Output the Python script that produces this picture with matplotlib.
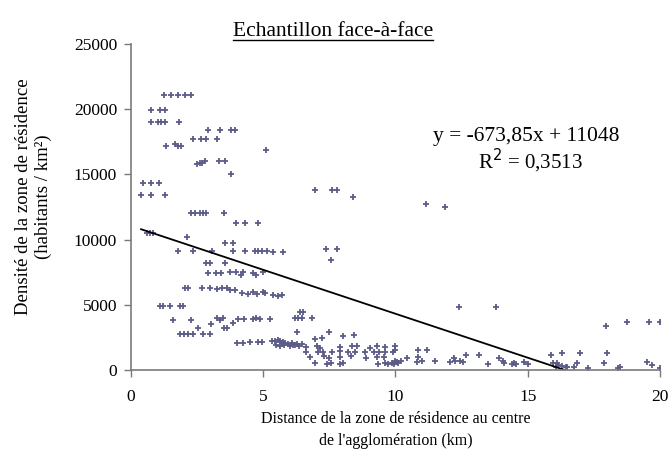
import numpy as np
import matplotlib
matplotlib.use("Agg")
import matplotlib.pyplot as plt
from matplotlib.lines import Line2D

plt.rcParams['font.family'] = ['Liberation Serif', 'DejaVu Serif']

# === DATA ===
distance_km = [
    1.25, 1.52, 1.78, 2.05, 2.27,
    0.76, 1.10, 1.29,
    0.76, 1.02, 1.14, 1.29, 1.82,
    2.92, 3.37, 3.79, 3.94,
    2.35, 2.65, 2.84, 3.26,
    1.33, 1.67, 1.78, 1.89,
    5.10,
    2.50, 2.60, 2.70, 2.80, 3.33, 3.56,
    3.79,
    0.45, 0.76, 1.06,
    0.38, 0.76, 1.29,
    6.97, 7.60, 7.80, 8.40,
    11.17, 11.86,
    2.27, 2.42, 2.61, 2.73, 2.84, 3.52,
    3.98, 4.32, 4.81,
    0.62, 0.72, 0.83,
    2.12,
    3.56, 3.86,
    1.78, 2.35, 3.07, 3.86, 4.32, 4.70, 4.81, 4.96, 5.15, 5.38, 5.76,
    7.39, 7.77, 7.57,
    2.84, 2.99, 3.56,
    2.92, 3.22, 3.41, 3.75, 3.98, 4.17, 4.24, 4.62, 4.73, 5.00,
    2.05, 2.16, 2.69, 2.99, 3.26, 3.45, 3.64, 3.75, 3.94, 4.20, 4.43, 4.62, 4.77, 5.00,
    5.08, 5.38, 5.57, 5.72,
    1.10, 1.21, 1.48, 1.86, 1.97,
    12.42, 13.80,
    6.40, 6.50,
    1.59, 2.27, 3.26, 3.37, 3.48, 4.05, 4.28, 4.62, 4.73, 4.89, 5.27, 6.20, 6.33, 6.48, 6.86,
    18.75, 19.58, 20.00, 17.95,
    3.03, 3.86,
    2.54, 3.52, 3.64,
    6.28, 7.50,
    1.86, 2.00, 2.16, 2.35, 2.73, 2.99,
    8.00, 8.45,
    6.97, 7.23,
    4.00, 4.24, 4.50, 4.81,
    4.96, 5.34, 5.45, 5.57, 5.64, 5.72, 5.76, 5.83, 5.95, 6.10, 6.14, 6.29, 6.48,
    5.50, 5.65, 5.80, 6.00, 6.20, 6.35, 6.60,
    7.05, 7.16, 7.92, 8.37, 8.56, 9.05, 9.30, 9.60, 10.00,
    10.00, 10.87, 11.20,
    6.60, 7.08, 7.27, 7.60, 7.90, 8.20, 8.48, 8.86, 9.17, 9.36, 9.62, 9.89,
    16.30, 16.97, 18.00, 15.90, 12.65, 13.14,
    6.78, 7.30, 7.50, 7.90, 8.30, 8.90, 9.30, 9.55, 10.45, 10.87, 12.20, 13.90,
    10.00, 10.05, 10.20, 10.80, 11.00, 11.50, 12.05, 12.25, 12.45, 12.55, 14.05, 14.50, 14.85,
    6.97, 7.40, 7.55, 7.92, 8.00, 9.33, 9.60, 9.70, 9.85, 9.95, 10.10,
    13.50, 14.10, 14.40, 14.55, 15.00, 15.95, 16.10, 16.86, 17.88, 19.50,
    16.06, 16.14, 16.44, 16.74, 17.27, 18.40, 18.50, 19.70, 20.00, 16.30, 16.50,
]

densite = [
    21100, 21100, 21100, 21100, 21100,
    19900, 19900, 19900,
    19000, 19000, 19000, 19000, 19000,
    18400, 18400, 18400, 18400,
    17700, 17700, 17700, 17700,
    17200, 17300, 17200, 17200,
    16900,
    15800, 15900, 15900, 16000, 16000, 16000,
    15000,
    14300, 14300, 14300,
    13400, 13400, 13400,
    13800, 13800, 13800, 13300,
    12700, 12500,
    12000, 12000, 12000, 12000, 12000, 12000,
    11300, 11300, 11300,
    10500, 10500, 10500,
    10200,
    9700, 9700,
    9100, 9100, 9100, 9100, 9100, 9100, 9100, 9100, 9100, 9050, 9050,
    9300, 9300, 8400,
    8200, 8200, 8200,
    7400, 7400, 7400, 7500, 7500, 7300, 7500, 7400, 7300, 7500,
    6250, 6250, 6250, 6300, 6200, 6300, 6300, 6150, 6100, 5900, 5800, 5950, 5850, 6000,
    5930, 5750, 5700, 5750,
    4900, 4900, 4900, 4900, 4900,
    4800, 4800,
    4450, 4450,
    3850, 3850, 3950, 3850, 3950, 3900, 3900, 3900, 3950, 3900, 3900, 3950, 3950, 4000, 3950,
    3700, 3700, 3700, 3350,
    3550, 3600,
    3250, 3250, 3250,
    2900, 2900,
    2750, 2750, 2750, 2750, 2750, 2750,
    2600, 2650,
    2400, 2450,
    2100, 2100, 2150, 2150,
    2150, 2250, 2250, 2300, 2200, 2100, 2150, 2050, 2000, 2100, 1950, 2000, 2000,
    1900, 1850, 1950, 1800, 1900, 1850, 1750,
    1800, 1700, 1750, 1850, 1800, 1700, 1800, 1750, 1800,
    1500, 1500, 1500,
    1400, 1400, 1350, 1400, 1450, 1400, 1350, 1400, 1400, 1350, 1400, 1400,
    1300, 1300, 1300, 1150, 1150, 1150,
    1000, 1050, 950, 1000, 1050, 950, 1000, 1000, 950, 1000, 950, 950,
    650, 600, 650, 600, 650, 650, 600, 650, 650, 600, 650, 550, 600,
    500, 450, 550, 450, 500, 450, 500, 450, 500, 450, 500,
    450, 500, 450, 450, 450, 500, 550, 500, 550, 600,
    250, 350, 250, 250, 180, 150, 200, 350, 150, 300, 200,
]

# linear trend shown on the chart
pente = -673.85
ordonnee = 11048
r2 = 0.3513

# === PLOT ===
fig = plt.figure(figsize=(6.72, 4.63), dpi=100)
ax = fig.add_axes([0.195, 0.201, 0.787, 0.704])

ax.plot(distance_km, densite, linestyle='none', marker='+', markersize=4,
        markeredgewidth=1.3, color='#5c5c88')

xt = np.array([min(distance_km), max(distance_km)])
ax.plot(xt, pente * xt + ordonnee, color='black', linewidth=1.3)

ax.set_xlim(0, 20)
ax.set_ylim(0, 25000)
ax.set_xticks([0, 5, 10, 15, 20])
ax.set_yticks([0, 5000, 10000, 15000, 20000, 25000])

for s in ['top', 'right']:
    ax.spines[s].set_visible(False)
for s in ['left', 'bottom']:
    ax.spines[s].set_color('#7a7a7a')
    ax.spines[s].set_linewidth(1.2)
ax.tick_params(direction='out', length=5, width=1, color='#7a7a7a',
               labelsize=12.5, pad=5)
ax.tick_params(axis='x', pad=9)

ax.set_xlabel("Distance de la zone de résidence au centre\nde l'agglomération (km)",
              fontsize=11.5, labelpad=4, linespacing=1.5)
ax.set_ylabel("Densité de la zone de résidence\n(habitants / km²)",
              fontsize=13.5, linespacing=1.15)
ax.yaxis.set_label_coords(-0.15, 0.53)

ax.text(14.95, 17900, f"y = {pente:.2f}x + {ordonnee}".replace('.', ','),
        ha='center', va='center', fontsize=15.5)
ax.text(15.1, 16000, f"R$^2$ = {r2}".replace('.', ','),
        ha='center', va='center', fontsize=15)

titre = fig.text(0.495, 0.933, "Echantillon face-à-face", ha='center', va='center',
                 fontsize=15.5)

# underline the title
fig.canvas.draw()
bb = titre.get_window_extent().transformed(fig.transFigure.inverted())
fig.add_artist(Line2D([bb.x0, bb.x1], [bb.y0 + 0.002, bb.y0 + 0.002],
                      color='black', linewidth=1))

fig.savefig("out.png", dpi=100)
